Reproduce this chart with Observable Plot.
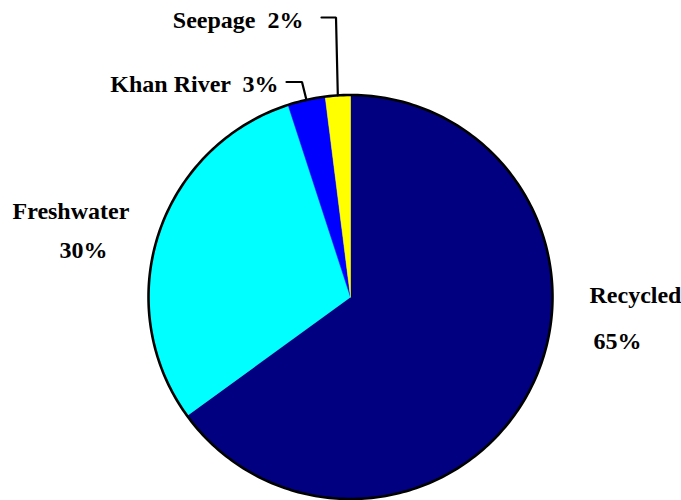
<!DOCTYPE html>
<html>
<head>
<meta charset="utf-8">
<script src="https://cdn.jsdelivr.net/npm/d3@7"></script>
<script src="https://cdn.jsdelivr.net/npm/@observablehq/plot@0.6"></script>
<style>
  html, body { margin: 0; padding: 0; background: #fff; }
  svg text { white-space: pre; }
</style>
</head>
<body>
<div id="chart"></div>
<script>
// ---- data ----
const categories = ["Recycled", "Freshwater", "Khan River", "Seepage"];
const shares = [65, 30, 3, 2];
const colors = ["#000080", "#00FFFF", "#0000FF", "#FFFF00"];
const labelNames = ["Recycled", "Freshwater", "Khan River", "Seepage"];
const labelValues = ["65%", "30%", "3%", "2%"];

// ---- layout (pixels) ----
const W = 681, H = 500;
const CX = 350, CY = 296.5, R = 202;
const toX = px => (px - CX) / R;
const toY = py => (CY - py) / R;

const pie = d3.pie().sort(null).value(d => d)(shares);

// slice polygons
const slices = pie.map((p, i) => {
  const pts = [{x: 0, y: 0}];
  const n = Math.max(4, Math.ceil((p.endAngle - p.startAngle) / 0.01));
  for (let k = 0; k <= n; k++) {
    const a = p.startAngle + (p.endAngle - p.startAngle) * k / n;
    pts.push({x: Math.sin(a), y: Math.cos(a)});
  }
  pts.push({x: 0, y: 0});
  return pts;
});

// outer outline
const outline = d3.range(0, 361).map(d => {
  const a = d * Math.PI / 180;
  return {x: Math.sin(a), y: Math.cos(a)};
});

// label layout
const font = {fontFamily: "Liberation Serif", fontWeight: "bold", fontSize: 24, fill: "black"};
const labels = [
  {text: labelNames[0], x: toX(589), y: toY(302), anchor: "start"},
  {text: labelValues[0], x: toX(593), y: toY(348), anchor: "start"},
  {text: labelNames[1], x: toX(12), y: toY(218), anchor: "start"},
  {text: labelValues[1], x: toX(59), y: toY(257), anchor: "start"},
  {text: labelNames[2] + "  " + labelValues[2], x: toX(278), y: toY(91.5), anchor: "end"},
  {text: labelNames[3] + "  " + labelValues[3], x: toX(303), y: toY(27.5), anchor: "end"}
];

// leader lines for small slices
function midPoint(i) {
  const a = (pie[i].startAngle + pie[i].endAngle) / 2;
  return {x: Math.sin(a), y: Math.cos(a)};
}
const leaders = [
  [{x: toX(286), y: toY(81.5)}, {x: toX(301.5), y: toY(81.5)}, midPoint(2)],
  [{x: toX(321), y: toY(17)}, {x: toX(335.5), y: toY(17)}, midPoint(3)]
];

const marks = [];
slices.forEach((pts, i) => {
  marks.push(Plot.line(pts, {x: "x", y: "y", fill: colors[i], stroke: colors[i], strokeWidth: 0.5, curve: "linear"}));
});
marks.push(Plot.line(outline, {x: "x", y: "y", stroke: "black", strokeWidth: 2.6, fill: "none"}));
leaders.forEach(l => {
  marks.push(Plot.line(l, {x: "x", y: "y", stroke: "black", strokeWidth: 2.2, strokeLinejoin: "miter"}));
});
labels.forEach(l => {
  marks.push(Plot.text([l], {x: "x", y: "y", text: "text", textAnchor: l.anchor, lineAnchor: "bottom", ...font}));
});

const chart = Plot.plot({
  width: W,
  height: H,
  marginTop: 0, marginRight: 0, marginBottom: 0, marginLeft: 0,
  x: {domain: [toX(0), toX(W)], range: [0, W], axis: null},
  y: {domain: [toY(H), toY(0)], range: [H, 0], axis: null},
  style: {background: "white", overflow: "visible"},
  marks
});
document.getElementById("chart").appendChild(chart);
</script>
</body>
</html>
